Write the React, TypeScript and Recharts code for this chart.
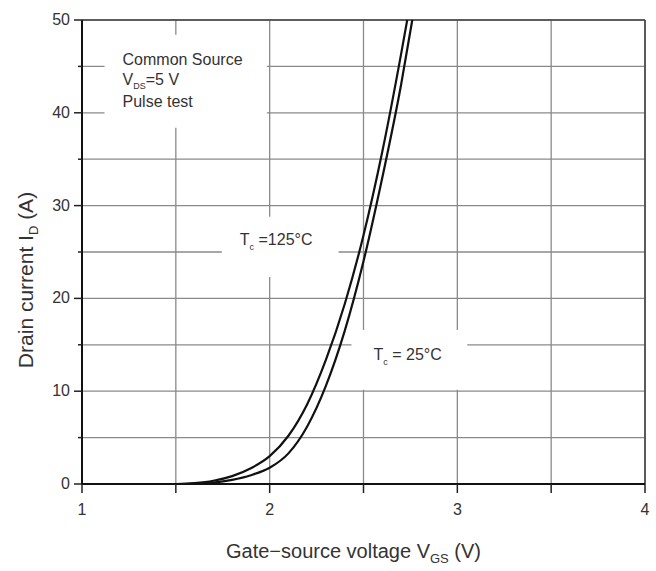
import { CartesianGrid, Label, Line, LineChart, ReferenceArea, ReferenceLine, XAxis, YAxis } from 'recharts';

// Gate-source voltage (V) vs drain current (A)
const vgsHot = [1.5, 1.6, 1.7, 1.8, 1.9, 2.0, 2.1, 2.2, 2.3, 2.4, 2.5, 2.6, 2.7, 2.733];
const idHot = [0, 0.1, 0.35, 0.85, 1.7, 3.0, 5.2, 8.6, 13.4, 19.4, 26.8, 35.8, 46.3, 50];
const vgsRoom = [1.55, 1.6, 1.7, 1.8, 1.9, 2.0, 2.1, 2.2, 2.3, 2.4, 2.5, 2.6, 2.7, 2.76];
const idRoom = [0, 0.03, 0.15, 0.45, 0.95, 1.75, 3.3, 6.2, 10.6, 16.5, 24.0, 33.0, 43.0, 50];

const xTicks = [1, 1.5, 2, 2.5, 3, 3.5, 4];
const yTicks = [0, 5, 10, 15, 20, 25, 30, 35, 40, 45, 50];

const hotData = vgsHot.map((v, i) => ({ v, id: idHot[i] }));
const roomData = vgsRoom.map((v, i) => ({ v, id: idRoom[i] }));

const FONT = '"Liberation Sans", Arial, sans-serif';
const TEXT = '#333';

function YTick({ x, y, payload }: any) {
  const major = payload.value % 10 === 0;
  return (
    <g>
      <line x1={x - (major ? 8 : 4)} x2={x} y1={y} y2={y} stroke="#222" strokeWidth={1.5} />
      {major && (
        <text x={x - 12} y={y} dy={5} textAnchor="end" fontSize={16} fontFamily={FONT} fill={TEXT}>
          {payload.value}
        </text>
      )}
    </g>
  );
}

function XTick({ x, y, payload }: any) {
  const major = Number.isInteger(payload.value);
  return (
    <g>
      <line x1={x} x2={x} y1={y} y2={y + 9} stroke="#222" strokeWidth={1.5} />
      {major && (
        <text x={x} y={y + 31} textAnchor="middle" fontSize={16} fontFamily={FONT} fill={TEXT}>
          {payload.value}
        </text>
      )}
    </g>
  );
}

function NoteLabel({ viewBox }: any) {
  const { x, y } = viewBox;
  return (
    <text fontSize={16} fontFamily={FONT} fill={TEXT}>
      <tspan x={x + 18} y={y + 30}>Common Source</tspan>
      <tspan x={x + 18} y={y + 50}>V</tspan>
      <tspan fontSize={9} dy={4}>DS</tspan>
      <tspan dy={-4}>=5 V</tspan>
      <tspan x={x + 18} y={y + 72}>Pulse test</tspan>
    </text>
  );
}

function tempLabel(temp: string, dx: number, dy: number) {
  return ({ viewBox }: any) => (
    <text x={viewBox.x + dx} y={viewBox.y + dy} fontSize={16} fontFamily={FONT} fill={TEXT}>
      T<tspan fontSize={9} dy={5}>c</tspan>
      <tspan dy={-5}>{temp}</tspan>
    </text>
  );
}

function XTitle({ viewBox }: any) {
  return (
    <text x={viewBox.x + viewBox.width / 2 - 10} y={558} textAnchor="middle" fontSize={20} fontFamily={FONT} fill={TEXT}>
      Gate−source voltage V<tspan fontSize={13} dy={5}>GS</tspan>
      <tspan dy={-5}> (V)</tspan>
    </text>
  );
}

function YTitle() {
  return (
    <text transform="translate(33 280) rotate(-90)" textAnchor="middle" fontSize={21} fontFamily={FONT} fill={TEXT}>
      Drain current I<tspan fontSize={13} dy={5}>D</tspan>
      <tspan dy={-5}> (A)</tspan>
    </text>
  );
}

export default function App() {
  return (
    <div style={{ position: 'absolute', left: 0, top: 0, background: '#fff' }}>
      <LineChart width={656} height={571} margin={{ top: 20, right: 11, bottom: 47, left: 0 }}>
        <CartesianGrid stroke="#8a8a8a" strokeWidth={1.3} />
        <XAxis
          type="number"
          dataKey="v"
          domain={[1, 4]}
          ticks={xTicks}
          tick={<XTick />}
          tickSize={0}
          tickMargin={0}
          axisLine={{ stroke: '#111', strokeWidth: 2 }}
          height={40}
          allowDuplicatedCategory={false}
        >
          <Label content={<XTitle />} />
        </XAxis>
        <YAxis
          type="number"
          domain={[0, 50]}
          ticks={yTicks}
          tick={<YTick />}
          tickSize={0}
          tickMargin={0}
          axisLine={{ stroke: '#111', strokeWidth: 2 }}
          width={82}
        >
          <Label content={<YTitle />} />
        </YAxis>
        <ReferenceLine y={50} stroke="#444" strokeWidth={1.6} />
        <ReferenceLine x={4} stroke="#444" strokeWidth={1.6} />
        <ReferenceArea x1={1.12} x2={1.985} y1={38.4} y2={48.4} fill="#fff" fillOpacity={1} stroke="none" label={<NoteLabel />} />
        <ReferenceArea x1={1.745} x2={2.367} y1={22.3} y2={28.8} fill="#fff" fillOpacity={1} stroke="none" label={tempLabel(' =125°C', 18, 28)} />
        <ReferenceArea x1={2.436} x2={3.053} y1={10.15} y2={16.6} fill="#fff" fillOpacity={1} stroke="none" label={tempLabel(' = 25°C', 22, 30)} />
        <Line data={hotData} dataKey="id" type="monotone" stroke="#111" strokeWidth={2.2} dot={false} isAnimationActive={false} />
        <Line data={roomData} dataKey="id" type="monotone" stroke="#111" strokeWidth={2.2} dot={false} isAnimationActive={false} />
      </LineChart>
    </div>
  );
}
